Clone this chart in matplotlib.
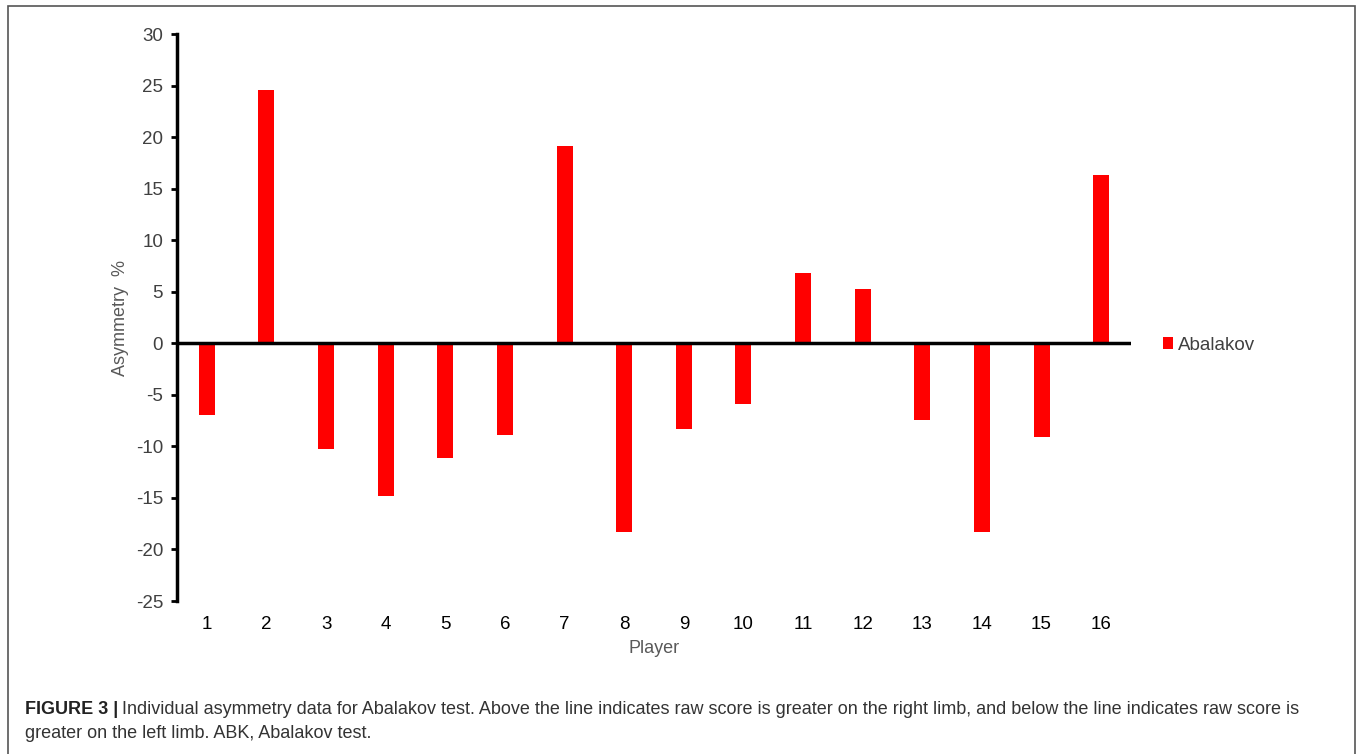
import matplotlib
matplotlib.use("Agg")
import matplotlib.pyplot as plt
from matplotlib.patches import Rectangle

players = [str(i) for i in range(1, 17)]
abalakov = [-7.0, 24.6, -10.3, -14.8, -11.1, -8.9, 19.1, -18.3,
            -8.3, -5.9, 6.8, 5.3, -7.4, -18.3, -9.1, 16.3]
yticks = list(range(-25, 31, 5))

W, H = 1360, 754
fig = plt.figure(figsize=(W / 100, H / 100), dpi=100)
plt.rcParams['font.family'] = ['Liberation Sans', 'DejaVu Sans']

ax = fig.add_axes([177 / W, 1 - 601 / H, (1131 - 177) / W, (601 - 34) / H])
x = list(range(1, 17))
bars = ax.bar(x, abalakov, width=0.27, color='#ff0000', label='Abalakov', zorder=2)
ax.axhline(0, color='black', lw=2.5, zorder=3)
ax.set_xlim(0.5, 16.5)
ax.set_ylim(-25, 30)
ax.set_yticks(yticks)
ax.set_yticklabels([str(t) for t in yticks], fontsize=13.5, color='#404040')
ax.set_xticks(x)
ax.set_xticklabels(players, fontsize=13.5, color='black')
ax.tick_params(axis='x', length=0, pad=11)
ax.tick_params(axis='y', length=4, width=2, direction='out', pad=6)
for s in ['top', 'right', 'bottom']:
    ax.spines[s].set_visible(False)
ax.spines['left'].set_linewidth(2.5)
ax.set_ylabel('Asymmetry  %', fontsize=13, color='#595959', labelpad=5)
ax.set_xlabel('Player', fontsize=13, color='#595959', labelpad=5)

leg = fig.legend(handles=[bars], labels=['Abalakov'], loc='center left',
                 bbox_to_anchor=(1146 / W, 1 - 345 / H), frameon=False,
                 fontsize=13.5, handlelength=0.55, handleheight=0.55, handletextpad=0.25)
for t in leg.get_texts():
    t.set_color('#404040')

# outer frame
fig.add_artist(Rectangle((8 / W, -0.01), (1355 - 8) / W, 1 - 6 / H + 0.01,
                         transform=fig.transFigure, fill=False,
                         edgecolor='#555555', lw=1.2))

cap_fam = ['Liberation Sans Narrow', 'Liberation Sans', 'DejaVu Sans']
t1 = fig.text(25 / W, 1 - 710 / H, 'FIGURE 3 |', fontsize=13, fontweight='bold',
              family=cap_fam, va='center', color='#222222')
fig.canvas.draw()
bb = t1.get_window_extent()
fig.text((bb.x1 + 4) / W, 1 - 710 / H,
         'Individual asymmetry data for Abalakov test. Above the line indicates raw score is greater on the right limb, and below the line indicates raw score is',
         fontsize=13, family=cap_fam, va='center', color='#333333')
fig.text(25 / W, 1 - 734 / H, 'greater on the left limb. ABK, Abalakov test.',
         fontsize=13, family=cap_fam, va='center', color='#333333')

fig.savefig('out.png', dpi=100)
